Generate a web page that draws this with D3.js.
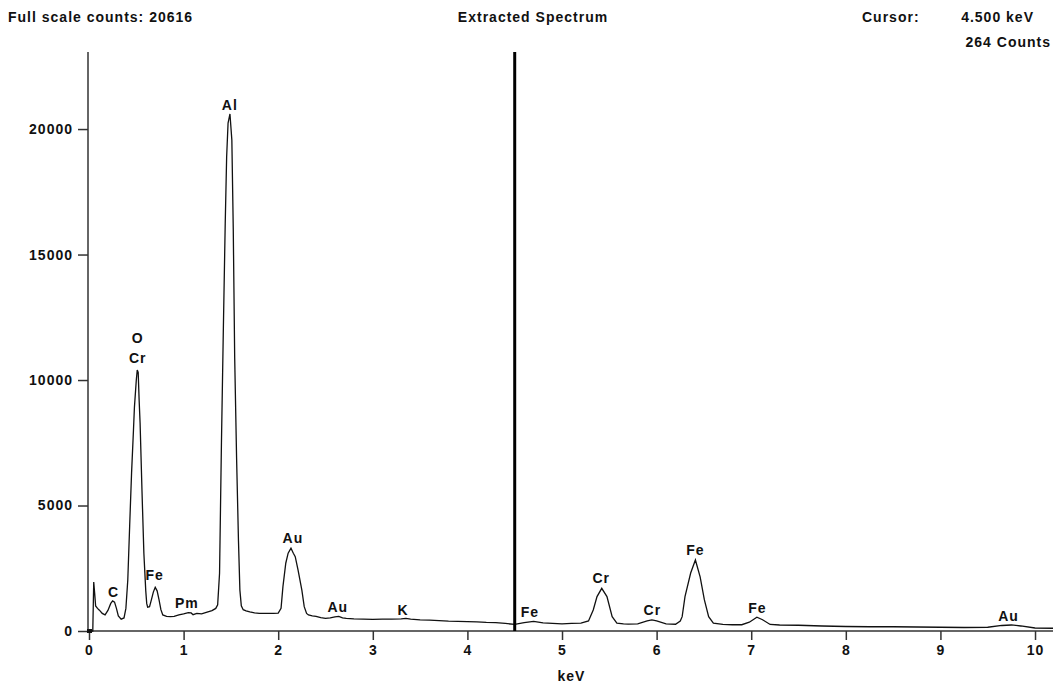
<!DOCTYPE html>
<html>
<head>
<meta charset="utf-8">
<script src="https://cdn.jsdelivr.net/npm/d3@7"></script>
<style>
  body { margin: 0; background: #fff; }
  svg text { font-family: "Liberation Sans", Arial, sans-serif; font-weight: bold; font-size: 14px; letter-spacing: 1px; fill: #111; }
</style>
</head>
<body>
<div class="svgContainer"></div>
<script>
// Statics
var TITLE = "Extracted Spectrum";
var FULL_SCALE = 20616;
var CURSOR_KEV = 4.5;
var CURSOR_COUNTS = 264;
var Y_TICKS = [0, 5000, 10000, 15000, 20000];
var X_TICKS = [0, 1, 2, 3, 4, 5, 6, 7, 8, 9, 10];
// End statics

// spectrum (keV, counts)
var ENERGY = [0.00, 0.04, 0.05, 0.06, 0.07, 0.09, 0.11, 0.14, 0.17, 0.20, 0.23, 0.25, 0.27, 0.29, 0.31, 0.34, 0.37, 0.39,
    0.41, 0.43, 0.45, 0.47, 0.48, 0.50, 0.51, 0.52, 0.53, 0.54, 0.56, 0.58, 0.60, 0.61, 0.62, 0.64, 0.66, 0.68, 0.70,
    0.72, 0.74, 0.76, 0.78, 0.82, 0.86, 0.90, 0.95, 1.00, 1.05, 1.08, 1.10, 1.14, 1.19, 1.24, 1.30, 1.34, 1.36, 1.38,
    1.40, 1.42, 1.44, 1.455, 1.47, 1.49, 1.51, 1.525, 1.54, 1.56, 1.58, 1.595, 1.61, 1.63, 1.66, 1.70, 1.75, 1.80,
    1.85, 1.90, 1.95, 2.00, 2.03, 2.05, 2.08, 2.105, 2.135, 2.16, 2.18, 2.21, 2.25, 2.275, 2.30, 2.32, 2.36, 2.40,
    2.45, 2.50, 2.55, 2.60, 2.64, 2.68, 2.72, 2.80, 2.90, 3.00, 3.10, 3.20, 3.30, 3.35, 3.40, 3.50, 3.60, 3.70, 3.80,
    3.90, 4.00, 4.10, 4.20, 4.30, 4.40, 4.50, 4.60, 4.70, 4.80, 4.90, 5.00, 5.10, 5.20, 5.28, 5.33, 5.37, 5.42, 5.475,
    5.53, 5.58, 5.65, 5.70, 5.80, 5.90, 5.95, 6.00, 6.10, 6.20, 6.25, 6.27, 6.30, 6.36, 6.41, 6.46, 6.505, 6.55, 6.60,
    6.70, 6.80, 6.90, 6.98, 7.06, 7.12, 7.20, 7.30, 7.50, 7.75, 8.00, 8.25, 8.50, 8.75, 9.00, 9.25, 9.50, 9.65, 9.75,
    9.85, 10.00, 10.19];
var COUNTS = [0, 0, 1950, 1500, 1000, 900, 830, 700, 640, 820, 1100, 1200, 1150, 900, 600, 470, 520, 900,
    2030, 4200, 6300, 8000, 8900, 10000, 10400, 10300, 9200, 8300, 5600, 3100, 1600, 1100, 950, 970, 1250, 1550, 1740,
    1600, 1250, 850, 640, 580, 570, 580, 640, 680, 730, 720, 650, 700, 680, 740, 810, 900, 1040, 2300,
    7500, 12000, 16250, 18900, 20240, 20600, 19560, 16000, 10900, 6900, 3600, 1630, 1000, 850, 800, 760, 720, 700,
    700, 700, 700, 710, 900, 1770, 2700, 3100, 3300, 3100, 2960, 2430, 1630, 970, 700, 640, 600, 580,
    530, 500, 520, 560, 580, 520, 500, 480, 470, 460, 470, 470, 480, 500, 470, 440, 430, 410, 390,
    380, 370, 360, 340, 330, 300, 264, 330, 380, 320, 300, 280, 300, 310, 400, 840, 1370, 1700, 1370,
    570, 310, 280, 270, 280, 400, 440, 400, 280, 270, 400, 570, 1370, 2310, 2830, 2160, 1240, 570, 310,
    260, 250, 250, 350, 550, 450, 260, 240, 230, 200, 180, 170, 170, 160, 150, 140, 150, 220, 240,
    200, 120, 110];

// peak labels: element, keV, counts at label baseline
var PEAK_NAMES  = ["O", "Cr", "Al", "C", "Fe", "Pm", "Au", "Au", "K", "Fe", "Cr", "Cr", "Fe", "Fe", "Au"];
var PEAK_KEV    = [0.515, 0.515, 1.489, 0.26, 0.695, 1.034, 2.155, 2.63, 3.32, 4.66, 5.415, 5.955, 6.41, 7.065, 9.72];
var PEAK_COUNTS = [11470, 10680, 20760, 1360, 2030, 920, 3510, 760, 640, 560, 1910, 640, 3030, 720, 400];

//Define Margin
var margin = {left: 89, right: 0, top: 52, bottom: 52},
    totalWidth = 1053,
    totalHeight = 683,
    width = totalWidth - margin.left - margin.right,
    height = totalHeight - margin.top - margin.bottom;

var svg = d3.select(".svgContainer").append("svg")
    .attr("width", totalWidth)
    .attr("height", totalHeight);

var g = svg.append("g")
    .attr("transform", "translate(" + margin.left + "," + margin.top + ")");

// Define the scales
var scaleX = d3.scaleLinear()
    .domain([0, 10.19])
    .range([0, width]);

var scaleY = d3.scaleLinear()
    .domain([0, 23070])
    .range([height, 0]);

// axes
var xAxis = g.append("g")
    .attr("transform", "translate(0," + height + ")")
    .call(d3.axisBottom(scaleX).tickValues(X_TICKS).tickSize(9).tickPadding(5).tickFormat(d3.format("d")));
xAxis.select(".domain").attr("d", "M-1,0H" + width).attr("stroke", "#333").attr("stroke-width", 1.5);
xAxis.selectAll(".tick line").attr("stroke", "#333").attr("stroke-width", 1.5);

var yAxis = g.append("g")
    .attr("transform", "translate(-1,0)")
    .call(d3.axisLeft(scaleY).tickValues(Y_TICKS).tickSize(10).tickPadding(5).tickFormat(d3.format("d")));
yAxis.select(".domain").attr("d", "M0,0V" + height).attr("stroke", "#333").attr("stroke-width", 1.5);
yAxis.selectAll(".tick line").attr("stroke", "#333").attr("stroke-width", 1.5);

svg.selectAll(".tick text")
    .style("font-family", "'Liberation Sans', Arial, sans-serif")
    .style("font-weight", "bold")
    .style("font-size", "14px")
    .style("letter-spacing", "1px")
    .attr("fill", "#111");

// origin marker
g.append("rect")
    .attr("x", scaleX(0) - 2).attr("y", height - 2)
    .attr("width", 5).attr("height", 4)
    .attr("fill", "#111");

// spectrum line
var spectrum = ENERGY.map(function(e, i) { return [e, COUNTS[i]]; });
var line = d3.line()
    .x(function(d) { return scaleX(d[0]); })
    .y(function(d) { return scaleY(d[1]); });

g.append("path")
    .datum(spectrum)
    .attr("d", line)
    .attr("fill", "none")
    .attr("stroke", "#111")
    .attr("stroke-width", 1.3);

// cursor line
g.append("line")
    .attr("x1", scaleX(CURSOR_KEV)).attr("x2", scaleX(CURSOR_KEV))
    .attr("y1", 0).attr("y2", height)
    .attr("stroke", "#000")
    .attr("stroke-width", 3);

// peak labels
g.selectAll(".peak")
    .data(PEAK_NAMES)
    .enter().append("text")
    .attr("class", "peak")
    .attr("x", function(d, i) { return scaleX(PEAK_KEV[i]); })
    .attr("y", function(d, i) { return scaleY(PEAK_COUNTS[i]); })
    .attr("text-anchor", "middle")
    .text(function(d) { return d; });

// header texts
svg.append("text").attr("x", 8).attr("y", 22).text("Full scale counts: " + FULL_SCALE);
svg.append("text").attr("x", 533).attr("y", 22).attr("text-anchor", "middle").text(TITLE);
svg.append("text").attr("x", 862).attr("y", 22).text("Cursor:");
svg.append("text").attr("x", 1034).attr("y", 22).attr("text-anchor", "end").text(d3.format(".3f")(CURSOR_KEV) + " keV");
svg.append("text").attr("x", 1051).attr("y", 47).attr("text-anchor", "end").text(CURSOR_COUNTS + " Counts");

// x axis title
svg.append("text").attr("x", scaleX(5.1) + margin.left).attr("y", 681).attr("text-anchor", "middle").text("keV");
</script>
</body>
</html>
